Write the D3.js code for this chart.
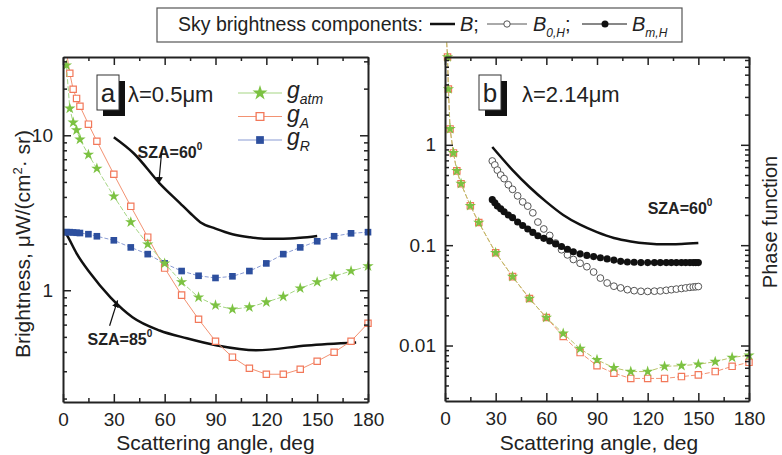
<!DOCTYPE html>
<html>
<head>
<meta charset="utf-8">
<script src="https://cdn.jsdelivr.net/npm/d3@7"></script>
<style>
  body { margin: 0; background: #fff; }
  text { font-family: Arial, "Liberation Sans", sans-serif; fill: #222; }
</style>
</head>
<body>
<svg id="chart" width="782" height="455"></svg>
<script>
// ---- data ----
// panel a (lambda = 0.5 um)
const angA_R = [0, 2, 4, 6, 8, 10, 15, 20, 30, 40, 50, 60, 70, 80, 90, 100, 110, 120, 130, 140, 150, 160, 170, 180];
const gR_a = [2.37, 2.37, 2.37, 2.36, 2.35, 2.34, 2.30, 2.23, 2.10, 1.89, 1.71, 1.49, 1.33, 1.24, 1.20, 1.23, 1.33, 1.49, 1.71, 1.89, 2.07, 2.23, 2.33, 2.37];
const angA = [2, 4, 6, 8, 10, 15, 20, 30, 40, 50, 60, 70, 80, 90, 100, 110, 120, 130, 140, 150, 160, 170, 180];
const gAtm_a = [28.3, 14.9, 12.1, 10.8, 9.4, 7.5, 6.1, 4.04, 2.75, 1.98, 1.49, 1.13, 0.90, 0.80, 0.754, 0.777, 0.837, 0.91, 1.03, 1.13, 1.23, 1.33, 1.43];
const gA_a = [35, 25.1, 19.8, 17.3, 15.4, 11.8, 9.15, 5.6, 3.48, 2.2, 1.39, 0.93, 0.65, 0.469, 0.37, 0.314, 0.287, 0.287, 0.309, 0.348, 0.398, 0.469, 0.612];
const ang60_a = [30, 42, 57, 69, 75, 81, 90, 100, 110, 120, 130, 140, 150];
const B60_a = [9.7, 7.6, 4.9, 3.65, 3.15, 2.75, 2.5, 2.3, 2.2, 2.15, 2.15, 2.18, 2.24];
const ang85_a = [2, 3, 8, 16, 28, 41, 57, 73, 91, 114, 144, 173];
const B85_a = [2.3, 2.2, 1.73, 1.29, 0.90, 0.67, 0.55, 0.49, 0.44, 0.41, 0.44, 0.46];

// panel b (lambda = 2.14 um)
const angB = [0, 1.5, 2, 3, 5, 7, 9.5, 15, 20, 30, 40, 50, 60, 70, 80, 90, 100, 110, 120, 130, 140, 150, 160, 170, 180];
const gAtm_b = [20, 7.5, 3.6, 1.44, 0.83, 0.55, 0.41, 0.247, 0.168, 0.084, 0.0486, 0.0294, 0.019, 0.0132, 0.0093, 0.0072, 0.0060, 0.0055, 0.0055, 0.0062, 0.0063, 0.0065, 0.0069, 0.0076, 0.0080];
const gA_b = [20, 7.5, 3.6, 1.44, 0.83, 0.55, 0.41, 0.247, 0.168, 0.084, 0.0486, 0.0294, 0.019, 0.0123, 0.0085, 0.0063, 0.0053, 0.0047, 0.0047, 0.0047, 0.0049, 0.0051, 0.0055, 0.0062, 0.0068];
const angB60 = [28, 40, 50, 60, 70, 80, 90, 100, 110, 120, 130, 140, 150];
const B60_b = [0.95, 0.56, 0.38, 0.27, 0.2, 0.16, 0.135, 0.118, 0.109, 0.104, 0.102, 0.103, 0.105];
const angH = [28, 29.5, 31, 33, 35, 37.5, 40, 43, 46, 49, 52, 55, 58.5, 62, 65.5, 69, 72.5, 76, 80, 84, 88, 92, 96, 100, 104, 108, 112, 116, 120, 124, 127.5, 131, 134, 137, 140, 142.5, 145, 147, 148.5, 150];
const B0H = [0.69, 0.63, 0.56, 0.50, 0.46, 0.40, 0.36, 0.31, 0.27, 0.245, 0.21, 0.17, 0.145, 0.125, 0.105, 0.09, 0.08, 0.072, 0.066, 0.061, 0.054, 0.047, 0.042, 0.039, 0.0375, 0.036, 0.0352, 0.0347, 0.0346, 0.0348, 0.035, 0.0355, 0.036, 0.0365, 0.037, 0.0375, 0.038, 0.0383, 0.0385, 0.0387];
const BmH = [0.284, 0.265, 0.245, 0.23, 0.215, 0.20, 0.188, 0.17, 0.157, 0.145, 0.134, 0.124, 0.117, 0.11, 0.103, 0.097, 0.091, 0.086, 0.082, 0.079, 0.077, 0.075, 0.073, 0.071, 0.069, 0.068, 0.0675, 0.067, 0.067, 0.067, 0.067, 0.067, 0.067, 0.067, 0.067, 0.067, 0.067, 0.067, 0.067, 0.067];

const xMajor = [0, 30, 60, 90, 120, 150, 180];
const xMinor = [15, 45, 75, 105, 135, 165];

const green = "#7cc242", greenLine = "#a5d684";
const orange = "#f2785a", orangeLine = "#f39272";
const blue = "#2d4f9e", blueLine = "#8a9bd3";

const svg = d3.select("#chart");

const xa = d3.scaleLinear().domain([0, 180]).range([63, 368]);
const ya = d3.scaleLog().domain([0.19, 32]).range([402, 57]);
const xb = d3.scaleLinear().domain([0, 180]).range([445, 749]);
const yb = d3.scaleLog().domain([0.0028, 7.5]).range([401, 57]);

// arrow head
svg.append("defs").append("marker")
  .attr("id", "arrow")
  .attr("viewBox", "0 0 10 10")
  .attr("refX", 10).attr("refY", 5)
  .attr("markerWidth", 7).attr("markerHeight", 7)
  .attr("markerUnits", "userSpaceOnUse")
  .attr("orient", "auto")
  .append("path").attr("d", "M0,0L10,5L0,10z").attr("fill", "#111");

function logTicks(y) {
  const [lo, hi] = y.domain();
  const major = [], minor = [];
  for (let e = -4; e <= 2; e++) {
    for (let m = 1; m <= 9; m++) {
      const v = +(m * Math.pow(10, e)).toPrecision(3);
      if (v < lo || v > hi) continue;
      if (m == 1) major.push(v); else minor.push(v);
    }
  }
  return [major, minor];
}

function drawFrame(x, y, labelPad) {
  const [x0, x1] = x.range(), [y0, y1] = y.range();
  const [yMajor, yMinor] = logTicks(y);
  const g = svg.append("g");

  // bottom with labels
  g.append("g").attr("transform", `translate(0,${y0})`)
    .call(d3.axisBottom(x).tickValues(xMajor).tickSize(-8).tickSizeOuter(0).tickPadding(11).tickFormat(d3.format("d")))
    .call(a => a.selectAll("text").style("font-size", "19px"));
  g.append("g").attr("transform", `translate(0,${y0})`)
    .call(d3.axisBottom(x).tickValues(xMinor).tickSize(-4).tickFormat(""))
    .call(a => a.select(".domain").remove());
  // top
  g.append("g").attr("transform", `translate(0,${y1})`)
    .call(d3.axisTop(x).tickValues(xMajor).tickSize(-8).tickSizeOuter(0).tickFormat(""));
  g.append("g").attr("transform", `translate(0,${y1})`)
    .call(d3.axisTop(x).tickValues(xMinor).tickSize(-4).tickFormat(""))
    .call(a => a.select(".domain").remove());
  // left with labels
  g.append("g").attr("transform", `translate(${x0},0)`)
    .call(d3.axisLeft(y).tickValues(yMajor).tickSize(-8).tickSizeOuter(0).tickPadding(labelPad).tickFormat(d => String(d)))
    .call(a => a.selectAll("text").style("font-size", "19px"));
  g.append("g").attr("transform", `translate(${x0},0)`)
    .call(d3.axisLeft(y).tickValues(yMinor).tickSize(-4).tickFormat(""))
    .call(a => a.select(".domain").remove());
  // right
  g.append("g").attr("transform", `translate(${x1},0)`)
    .call(d3.axisRight(y).tickValues(yMajor).tickSize(-8).tickSizeOuter(0).tickFormat(""));
  g.append("g").attr("transform", `translate(${x1},0)`)
    .call(d3.axisRight(y).tickValues(yMinor).tickSize(-4).tickFormat(""))
    .call(a => a.select(".domain").remove());

  g.selectAll(".domain").attr("stroke", "#222").attr("stroke-width", 2);
  g.selectAll(".tick line").attr("stroke", "#222").attr("stroke-width", 1.5);
  g.selectAll(".tick text").attr("fill", "#222");
}

function series(g, x, y, angles, values, opt) {
  const pts = angles.map((a, i) => [x(a), y(values[i])]);
  const line = d3.line().curve(opt.curve || d3.curveLinear);
  g.append("path").attr("d", line(pts))
    .attr("fill", "none")
    .attr("stroke", opt.line)
    .attr("stroke-width", opt.width || 1)
    .attr("stroke-dasharray", opt.dash || null);
  if (opt.symbol) {
    g.selectAll(null).data(pts).join("path")
      .attr("transform", d => `translate(${d[0]},${d[1]})`)
      .attr("d", d3.symbol(opt.symbol, opt.size))
      .attr("fill", opt.fill)
      .attr("stroke", opt.stroke || "none")
      .attr("stroke-width", opt.sw || 1);
  }
}

// ---- panel a ----
svg.append("clipPath").attr("id", "clipA").append("rect")
  .attr("x", xa(0)).attr("y", ya.range()[1])
  .attr("width", xa(180) - xa(0) + 6).attr("height", ya.range()[0] - ya.range()[1]);
const pa = svg.append("g").attr("clip-path", "url(#clipA)");

series(pa, xa, ya, ang85_a, B85_a, { line: "#111", width: 2.5, curve: d3.curveMonotoneX });
series(pa, xa, ya, ang60_a, B60_a, { line: "#111", width: 2.5, curve: d3.curveMonotoneX });
series(pa, xa, ya, angA_R, gR_a, { line: blueLine, dash: "4,2", symbol: d3.symbolSquare, size: 44, fill: blue });
series(pa, xa, ya, angA, gA_a, { line: orangeLine, symbol: d3.symbolSquare, size: 40, fill: "#fff", stroke: orange, sw: 1.2 });
series(pa, xa, ya, angA, gAtm_a, { line: greenLine, dash: "5,2", symbol: d3.symbolStar, size: 40, fill: green });

drawFrame(xa, ya, 10);

// ---- panel b ----
const pb = svg.append("g");
series(pb, xb, yb, angB, gA_b, { line: orangeLine, dash: "5,2", symbol: d3.symbolSquare, size: 40, fill: "#fff", stroke: orange, sw: 1.2 });
series(pb, xb, yb, angB, gAtm_b, { line: "#b9c46a", dash: "5,2", symbol: d3.symbolStar, size: 40, fill: green });
series(pb, xb, yb, angB60, B60_b, { line: "#111", width: 2.5, curve: d3.curveMonotoneX });
series(pb, xb, yb, angH, B0H, { line: "none", symbol: d3.symbolCircle, size: 36, fill: "#fff", stroke: "#555", sw: 1 });
series(pb, xb, yb, angH, BmH, { line: "none", symbol: d3.symbolCircle, size: 40, fill: "#111" });

drawFrame(xb, yb, 9);

// ---- annotations ----
function panelTag(x, y, tag, lam) {
  const bx = x(0) + 34, by = y.range()[1] + 18;
  svg.append("rect").attr("x", bx + 6).attr("y", by + 6).attr("width", 22).attr("height", 35).attr("fill", "#111");
  svg.append("rect").attr("x", bx).attr("y", by).attr("width", 22).attr("height", 35)
    .attr("fill", "#fff").attr("stroke", "#333").attr("stroke-width", 1);
  svg.append("text").attr("x", bx + 11).attr("y", by + 27).attr("text-anchor", "middle")
    .style("font-size", "26px").text(tag);
  svg.append("text").attr("x", bx + 31 + (tag == "b" ? 12 : 0)).attr("y", by + 27)
    .style("font-size", "22px").text(lam);
}
panelTag(xa, ya, "a", "λ=0.5μm");
panelTag(xb, yb, "b", "λ=2.14μm");

function sza(x, y, tx, ty, label) {
  const t = svg.append("text").attr("x", x(tx)).attr("y", y(ty))
    .style("font-size", "16px").style("font-weight", "bold").text(label);
  t.append("tspan").attr("dy", -8).style("font-size", "10px").text("0");
}
function arrow(x, y, a0, v0, a1, v1) {
  svg.append("line")
    .attr("x1", x(a0)).attr("y1", y(v0)).attr("x2", x(a1)).attr("y2", y(v1))
    .attr("stroke", "#111").attr("stroke-width", 1.2).attr("marker-end", "url(#arrow)");
}
sza(xa, ya, 44, 7.1, "SZA=60");
arrow(xa, ya, 58.3, 8.0, 56.5, 4.85);
sza(xa, ya, 14.5, 0.44, "SZA=85");
arrow(xa, ya, 27.5, 0.59, 32.2, 0.86);
sza(xb, yb, 120, 0.205, "SZA=60");

// legend inside panel a
const legA = [
  { name: "atm", color: green, line: greenLine, symbol: d3.symbolStar, fill: green, stroke: "none" },
  { name: "A", color: orange, line: orangeLine, symbol: d3.symbolSquare, fill: "#fff", stroke: orange },
  { name: "R", color: blue, line: blueLine, symbol: d3.symbolSquare, fill: blue, stroke: "none" }
];
legA.forEach((d, i) => {
  const ly = 93 + i * 23.5;
  svg.append("line").attr("x1", 238).attr("x2", 282).attr("y1", ly).attr("y2", ly)
    .attr("stroke", d.line).attr("stroke-width", 1.2);
  svg.append("path").attr("transform", `translate(260,${ly})`)
    .attr("d", d3.symbol(d.symbol, d.symbol == d3.symbolStar ? 70 : 60))
    .attr("fill", d.fill).attr("stroke", d.stroke).attr("stroke-width", 1.3);
  const t = svg.append("text").attr("x", 287).attr("y", ly + 5).style("font-size", "23px").style("font-style", "italic");
  t.append("tspan").text("g");
  t.append("tspan").attr("dy", 6).style("font-size", "14px").text(d.name);
});

// axis titles
svg.append("text").attr("x", (xa(0) + xa(180)) / 2).attr("y", 450).attr("text-anchor", "middle")
  .style("font-size", "21px").text("Scattering angle, deg");
svg.append("text").attr("x", (xb(0) + xb(180)) / 2 + 2).attr("y", 450).attr("text-anchor", "middle")
  .style("font-size", "21px").text("Scattering angle, deg");
const yt = svg.append("text").attr("transform", "translate(30,244) rotate(-90)").attr("text-anchor", "middle")
  .style("font-size", "21px");
yt.append("tspan").text("Brightness, μW/(cm");
yt.append("tspan").attr("dy", -8).style("font-size", "13px").text("2");
yt.append("tspan").attr("dy", 8).text("· sr)");
svg.append("text").attr("transform", "translate(777,222) rotate(-90)").attr("text-anchor", "middle")
  .style("font-size", "20px").text("Phase function");

// top legend box
const lg = svg.append("g");
lg.append("rect").attr("x", 157).attr("y", 8).attr("width", 525).attr("height", 34)
  .attr("fill", "#fff").attr("stroke", "#555").attr("stroke-width", 1.2);
lg.append("text").attr("x", 178).attr("y", 31).style("font-size", "19.5px").text("Sky brightness components:");
lg.append("line").attr("x1", 430).attr("x2", 455).attr("y1", 24).attr("y2", 24).attr("stroke", "#111").attr("stroke-width", 2.5);
const t1 = lg.append("text").attr("x", 460).attr("y", 31).style("font-size", "20px");
t1.append("tspan").style("font-style", "italic").text("B");
t1.append("tspan").text(";");
lg.append("line").attr("x1", 487).attr("x2", 527).attr("y1", 24).attr("y2", 24).attr("stroke", "#555").attr("stroke-width", 1);
lg.append("circle").attr("cx", 507).attr("cy", 24).attr("r", 3.2).attr("fill", "#fff").attr("stroke", "#555");
const t2 = lg.append("text").attr("x", 533).attr("y", 31).style("font-size", "20px");
t2.append("tspan").style("font-style", "italic").text("B");
t2.append("tspan").attr("dy", 6).style("font-size", "12px").style("font-style", "italic").text("0,H");
t2.append("tspan").attr("dy", -6).text(";");
lg.append("line").attr("x1", 582).attr("x2", 627).attr("y1", 24).attr("y2", 24).attr("stroke", "#111").attr("stroke-width", 1);
lg.append("circle").attr("cx", 605).attr("cy", 24).attr("r", 3.5).attr("fill", "#111");
const t3 = lg.append("text").attr("x", 632).attr("y", 31).style("font-size", "20px");
t3.append("tspan").style("font-style", "italic").text("B");
t3.append("tspan").attr("dy", 6).style("font-size", "12px").style("font-style", "italic").text("m,H");
</script>
</body>
</html>
